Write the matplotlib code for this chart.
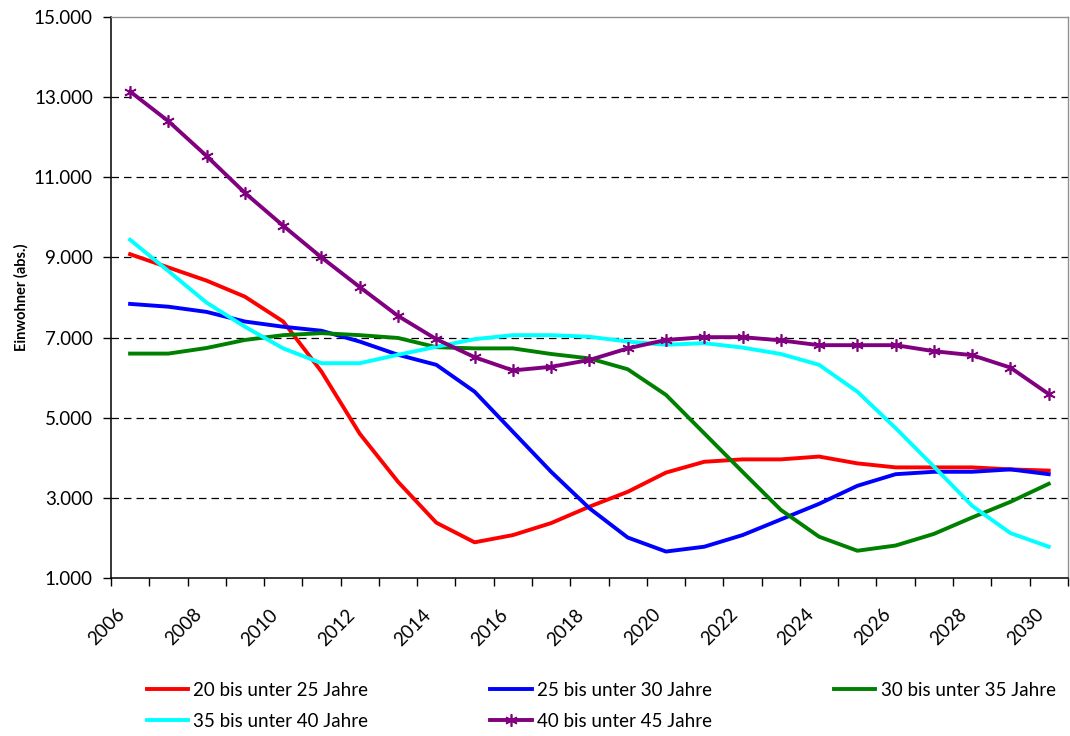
import numpy as np
import matplotlib.pyplot as plt
from matplotlib.transforms import ScaledTranslation

plt.rcParams['font.family'] = ['Lato', 'DejaVu Sans']

years = list(range(2006, 2031))

ew_20_25 = [9080, 8750, 8420, 8020, 7400, 6150, 4600, 3400, 2380, 1890,
            2070, 2370, 2780, 3150, 3630, 3900, 3960, 3960, 4030, 3860,
            3760, 3760, 3760, 3710, 3680]
ew_25_30 = [7840, 7770, 7640, 7400, 7270, 7170, 6900, 6570, 6320, 5650,
            4650, 3650, 2740, 2010, 1660, 1780, 2070, 2460, 2850, 3300,
            3590, 3650, 3650, 3710, 3590]
ew_30_35 = [6600, 6600, 6740, 6940, 7060, 7110, 7060, 6990, 6760, 6730,
            6730, 6590, 6480, 6210, 5570, 4610, 3650, 2700, 2030, 1680,
            1810, 2100, 2510, 2900, 3350]
ew_35_40 = [9440, 8660, 7870, 7270, 6730, 6360, 6360, 6570, 6770, 6960,
            7060, 7060, 7020, 6900, 6820, 6860, 6750, 6590, 6320, 5650,
            4740, 3780, 2800, 2120, 1780]
ew_40_45 = [13140, 12400, 11530, 10610, 9790, 9000, 8260, 7540, 6960, 6510,
            6180, 6270, 6440, 6730, 6940, 7010, 7010, 6930, 6810, 6810,
            6810, 6660, 6560, 6250, 5590]

x = np.arange(len(years))

fig = plt.figure(figsize=(10.7, 7.36), dpi=100)
ax = fig.add_axes([0.1037, 0.2147, 0.8943, 0.7622])

lw = 2.8
l1, = ax.plot(x, ew_20_25, color='#FF0000', lw=lw, label='20 bis unter 25 Jahre')
l2, = ax.plot(x, ew_25_30, color='#0000FF', lw=lw, label='25 bis unter 30 Jahre')
l3, = ax.plot(x, ew_30_35, color='#008000', lw=lw, label='30 bis unter 35 Jahre')
l4, = ax.plot(x, ew_35_40, color='#00FFFF', lw=lw, label='35 bis unter 40 Jahre')
l5, = ax.plot(x, ew_40_45, color='#800080', lw=lw, marker=(6, 2, 0),
              markersize=9, markeredgewidth=1.2, label='40 bis unter 45 Jahre')

ax.set_xlim(-0.5, len(years) - 0.5)
ax.set_ylim(1000, 15000)

# y axis with German thousands separator
yt = np.arange(1000, 15001, 2000)
ax.set_yticks(yt)
ax.set_yticklabels([f'{v:,}'.replace(',', '.') for v in yt], fontsize=13.5)
for v in yt[1:-1]:
    ax.axhline(v, color='black', lw=0.9, ls=(0, (6, 4)), zorder=0)

# tick marks between categories, labels on every second year
ax.set_xticks(np.arange(-0.5, len(years), 1))
ax.set_xticklabels([])
ax.set_xticks(x[::2], minor=True)
ax.set_xticklabels([str(y) for y in years[::2]], minor=True, rotation=45,
                   ha='right', va='top', rotation_mode='anchor', fontsize=13.5)
ax.tick_params(axis='x', which='major', direction='out', length=6, width=1)
ax.tick_params(axis='x', which='minor', length=0, pad=20)
ax.tick_params(axis='y', direction='out', length=6, width=1, pad=7)
shift = ScaledTranslation(-14 / 100, 0, fig.dpi_scale_trans)
for lab in ax.get_xticklabels(minor=True):
    lab.set_transform(lab.get_transform() + shift)

for s in ['top', 'right']:
    ax.spines[s].set_color('#909090')
    ax.spines[s].set_linewidth(1)
for s in ['left', 'bottom']:
    ax.spines[s].set_color('black')
    ax.spines[s].set_linewidth(1.1)

ax.set_ylabel('Einwohner (abs.)', fontsize=10.5, fontweight='bold', labelpad=4)

handles = [l1, l4, l2, l5, l3]
fig.legend(handles, [h.get_label() for h in handles], ncol=3,
           loc='upper left', bbox_to_anchor=(0.130, 0.084), frameon=False,
           fontsize=13.5, handlelength=2.2, handletextpad=0.3,
           columnspacing=6.5, labelspacing=0.75, borderaxespad=0)

fig.savefig('out.png', dpi=100)
